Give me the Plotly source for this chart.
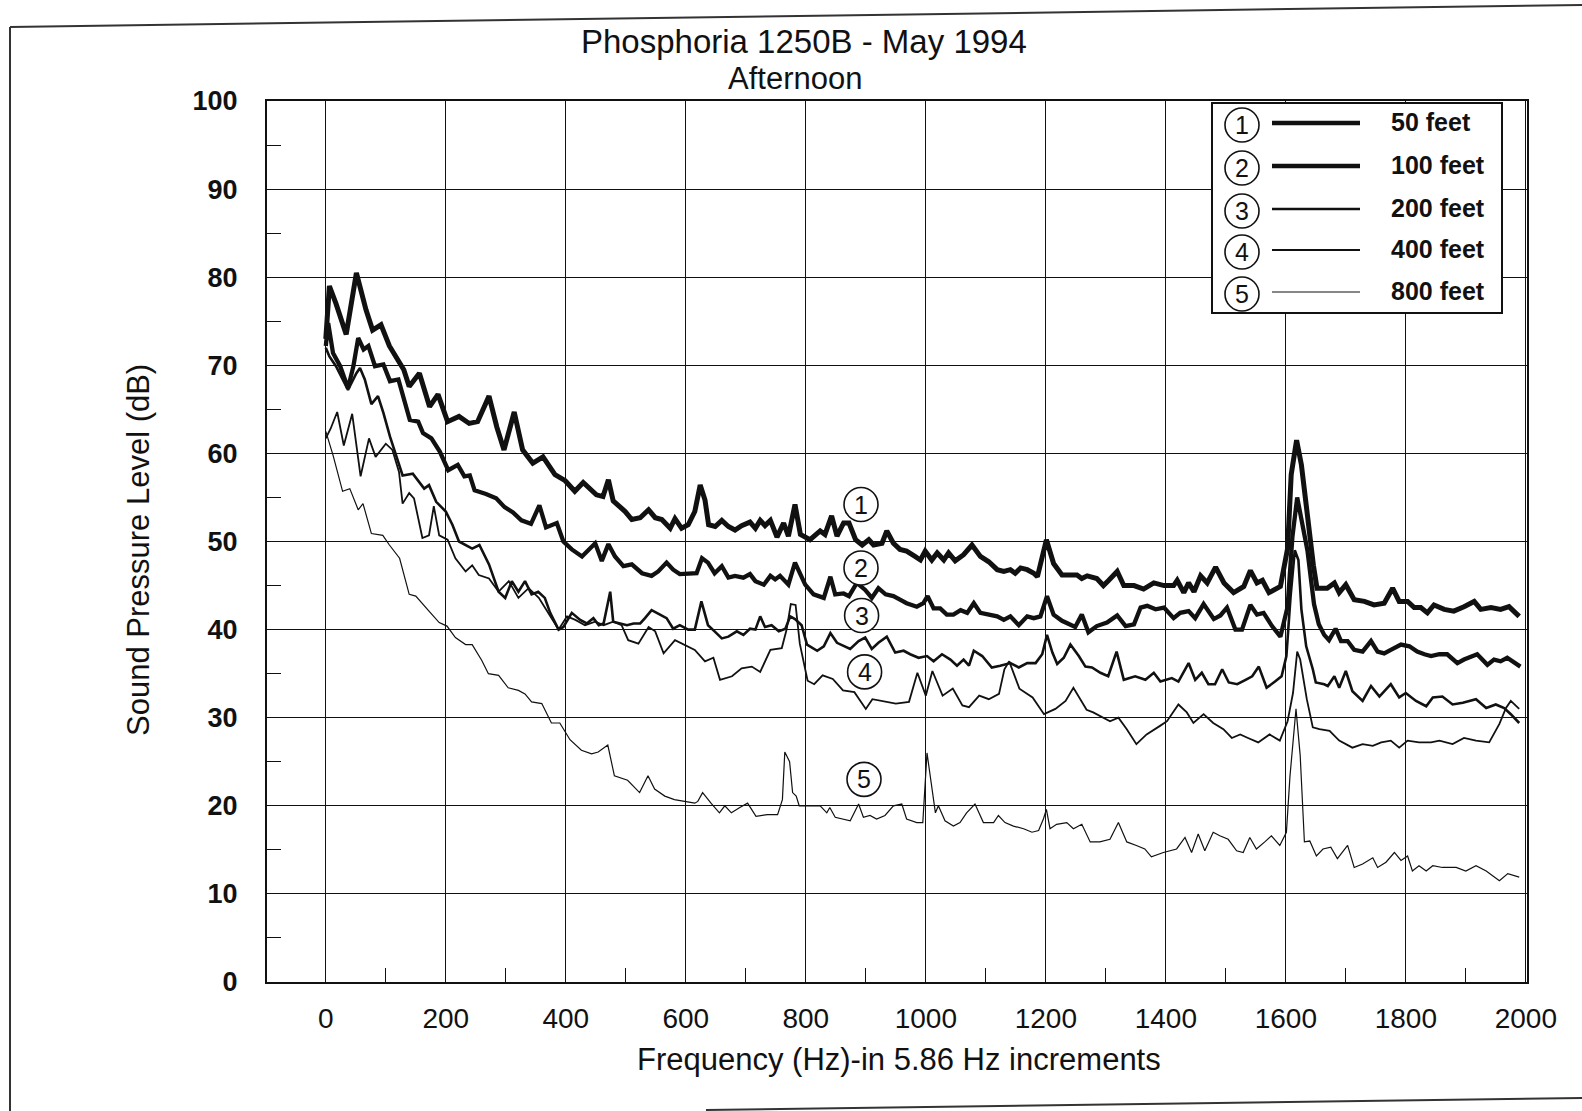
import plotly.graph_objects as go

# Sound pressure level spectra (frequency in Hz, level in dB) at five distances
spl_50ft = [(0, 73.0), (6, 79.0), (17, 77.0), (34, 73.5), (51, 80.5), (67, 76.3), (78, 74.0), (92, 74.6),
            (106, 72.2), (117, 71.0), (130, 69.5), (139, 67.6), (156, 69.1), (173, 65.3), (187, 66.7),
            (203, 63.6), (222, 64.2), (239, 63.4), (253, 63.6), (272, 66.5), (285, 63.0), (297, 60.4),
            (314, 64.7), (328, 60.4), (345, 58.9), (362, 59.6), (382, 57.6), (399, 56.9), (415, 55.7),
            (429, 56.7), (451, 55.3), (462, 55.1), (471, 57.0), (479, 54.6), (499, 53.4), (510, 52.5),
            (524, 52.7), (538, 53.6), (549, 52.7), (560, 52.5), (574, 51.5), (582, 52.6), (593, 51.5),
            (604, 51.9), (615, 53.4), (624, 56.4), (632, 54.7), (638, 51.9), (649, 51.7), (660, 52.4),
            (671, 51.7), (682, 51.3), (693, 51.8), (707, 52.2), (716, 51.5), (724, 52.4), (732, 51.8),
            (741, 52.4), (752, 50.5), (763, 52.1), (771, 50.6), (782, 54.2), (791, 50.8), (807, 50.2),
            (824, 51.2), (832, 50.8), (843, 52.9), (852, 50.6), (863, 52.1), (872, 52.1), (883, 50.2),
            (894, 49.6), (905, 50.2), (913, 49.6), (927, 49.8), (935, 51.2), (946, 49.8), (957, 49.1),
            (968, 48.9), (982, 48.3), (991, 47.9), (999, 48.9), (1010, 47.9), (1019, 48.7), (1030, 47.9),
            (1038, 48.7), (1049, 47.8), (1063, 48.5), (1077, 49.6), (1091, 48.3), (1105, 47.7),
            (1119, 46.8), (1130, 46.6), (1141, 46.8), (1149, 46.4), (1158, 47.0), (1169, 46.8),
            (1180, 46.4), (1186, 46.0), (1201, 50.2), (1213, 47.5), (1227, 46.2), (1241, 46.2),
            (1252, 46.2), (1260, 45.8), (1269, 46.1), (1285, 45.8), (1296, 45.0), (1305, 45.6),
            (1319, 46.6), (1330, 45.0), (1347, 45.0), (1363, 44.6), (1380, 45.3), (1397, 45.0),
            (1413, 45.0), (1419, 45.6), (1430, 44.2), (1438, 45.3), (1447, 44.3), (1458, 46.1),
            (1469, 45.3), (1483, 47.1), (1497, 45.3), (1513, 44.2), (1530, 44.9), (1541, 46.7),
            (1552, 45.3), (1561, 45.6), (1572, 44.2), (1591, 44.9), (1603, 49.2), (1609, 57.6),
            (1618, 61.5), (1626, 58.7), (1636, 52.6), (1646, 47.3), (1652, 44.7), (1669, 44.7),
            (1681, 45.3), (1689, 44.2), (1700, 45.1), (1714, 43.4), (1731, 43.2), (1747, 42.8),
            (1764, 43.0), (1778, 44.7), (1789, 43.2), (1803, 43.2), (1814, 42.5), (1825, 42.5),
            (1836, 41.9), (1847, 42.8), (1864, 42.3), (1880, 42.1), (1897, 42.6), (1914, 43.2),
            (1925, 42.3), (1942, 42.5), (1958, 42.3), (1972, 42.6), (1989, 41.5)]

spl_100ft = [(0, 72.2), (4, 74.8), (12, 71.4), (24, 69.9), (37, 67.4), (46, 69.9), (54, 73.1), (63, 71.8),
             (71, 72.2), (82, 69.9), (96, 70.1), (107, 68.2), (121, 68.4), (129, 66.5), (140, 63.8),
             (154, 63.6), (162, 62.3), (176, 61.7), (190, 60.2), (204, 58.1), (220, 58.7), (231, 57.4),
             (240, 57.5), (248, 55.8), (267, 55.4), (284, 54.9), (298, 53.9), (312, 53.3), (326, 52.4),
             (342, 52.0), (356, 54.1), (367, 51.6), (385, 52.1), (396, 50.0), (410, 49.1), (427, 48.3),
             (438, 49.1), (449, 49.8), (460, 47.8), (471, 49.7), (482, 48.3), (496, 47.2), (510, 47.4),
             (527, 46.4), (543, 46.1), (554, 46.6), (568, 47.6), (579, 46.8), (590, 46.3), (604, 46.4),
             (618, 46.4), (627, 48.1), (637, 47.6), (648, 46.4), (660, 47.2), (671, 45.9), (682, 46.1),
             (696, 45.9), (707, 46.3), (716, 45.5), (730, 45.1), (741, 46.1), (749, 45.7), (757, 46.1),
             (771, 45.1), (782, 47.6), (799, 45.1), (813, 44.0), (830, 43.6), (841, 46.0), (849, 44.0),
             (863, 44.1), (872, 43.8), (885, 45.3), (899, 44.5), (910, 43.6), (921, 44.7), (933, 44.0),
             (946, 43.8), (957, 43.4), (968, 43.0), (985, 42.6), (996, 43.0), (1003, 43.8), (1013, 42.4),
             (1024, 42.4), (1035, 41.7), (1046, 41.7), (1058, 42.2), (1069, 41.9), (1080, 43.0),
             (1091, 41.9), (1105, 41.7), (1119, 41.5), (1130, 41.1), (1141, 41.5), (1155, 40.5),
             (1169, 41.5), (1180, 41.3), (1191, 41.5), (1202, 43.8), (1213, 41.7), (1227, 41.0),
             (1241, 40.6), (1249, 40.3), (1260, 41.7), (1271, 39.7), (1285, 40.4), (1302, 40.8),
             (1319, 41.6), (1333, 40.4), (1347, 40.6), (1358, 42.5), (1369, 42.7), (1383, 42.3),
             (1397, 42.5), (1413, 41.3), (1424, 41.9), (1438, 42.1), (1449, 41.3), (1463, 42.9),
             (1480, 41.2), (1491, 41.6), (1502, 42.5), (1516, 40.0), (1527, 40.0), (1541, 42.8),
             (1552, 41.7), (1563, 41.9), (1577, 40.4), (1591, 39.2), (1603, 42.6), (1611, 50.5),
             (1619, 55.0), (1628, 52.0), (1636, 49.0), (1647, 42.9), (1655, 40.6), (1664, 39.4),
             (1672, 38.8), (1683, 40.1), (1692, 38.7), (1703, 38.7), (1714, 37.7), (1728, 37.5),
             (1742, 38.7), (1753, 37.5), (1764, 37.3), (1775, 37.7), (1792, 38.3), (1806, 38.1),
             (1819, 37.5), (1831, 37.2), (1842, 37.0), (1856, 37.2), (1869, 37.2), (1886, 36.2),
             (1897, 36.6), (1919, 37.2), (1936, 36.0), (1947, 36.6), (1958, 36.4), (1969, 36.8),
             (1991, 35.8)]

spl_200ft = [(0, 72.0), (6, 71.0), (17, 69.9), (37, 67.2), (51, 69.1), (57, 69.7), (65, 68.4), (76, 65.6),
             (87, 66.5), (96, 64.6), (107, 61.9), (117, 59.8), (128, 57.5), (145, 57.7), (164, 56.0),
             (172, 56.4), (184, 54.5), (200, 53.4), (211, 51.9), (222, 50.0), (244, 49.2), (256, 49.6),
             (272, 47.4), (288, 44.3), (299, 43.6), (310, 45.5), (321, 44.3), (332, 45.5), (343, 44.0),
             (354, 44.3), (365, 43.6), (374, 41.9), (388, 40.0), (396, 40.3), (410, 41.9), (424, 41.1),
             (435, 40.7), (446, 41.3), (455, 40.5), (463, 40.7), (474, 44.3), (479, 40.9), (490, 40.7),
             (502, 40.5), (513, 40.7), (524, 40.7), (532, 41.3), (543, 42.2), (557, 41.7), (568, 41.3),
             (579, 40.1), (590, 40.5), (604, 40.0), (615, 40.0), (626, 43.2), (637, 40.5), (648, 39.8),
             (660, 39.0), (671, 39.2), (685, 39.8), (696, 39.4), (707, 40.1), (716, 40.0), (724, 41.5),
             (732, 40.3), (743, 40.5), (755, 39.8), (766, 40.1), (774, 41.5), (782, 41.2), (793, 40.5),
             (802, 38.3), (819, 37.6), (830, 38.1), (841, 39.6), (852, 38.5), (874, 37.8), (888, 38.7),
             (899, 39.1), (910, 37.8), (921, 38.5), (935, 39.2), (949, 37.4), (963, 37.6), (974, 37.2),
             (988, 36.8), (1002, 37.0), (1013, 36.4), (1027, 37.2), (1041, 36.6), (1052, 35.9),
             (1063, 36.6), (1072, 35.9), (1080, 37.6), (1094, 37.0), (1110, 35.7), (1124, 35.9),
             (1141, 36.2), (1155, 35.7), (1169, 36.2), (1183, 36.2), (1194, 37.2), (1202, 39.4),
             (1211, 37.4), (1219, 36.1), (1230, 36.8), (1241, 38.3), (1255, 37.0), (1266, 35.8),
             (1277, 35.7), (1291, 35.1), (1304, 34.7), (1318, 37.5), (1330, 34.3), (1349, 34.7),
             (1366, 34.3), (1380, 35.1), (1391, 34.1), (1410, 34.5), (1421, 34.1), (1438, 36.2),
             (1449, 34.3), (1460, 35.1), (1471, 33.8), (1482, 33.8), (1494, 35.5), (1505, 34.0),
             (1519, 33.8), (1533, 34.3), (1544, 34.7), (1555, 35.8), (1568, 33.4), (1582, 34.1),
             (1593, 34.7), (1601, 37.0), (1608, 43.8), (1615, 49.0), (1621, 47.9), (1626, 42.3),
             (1634, 38.1), (1645, 35.5), (1650, 34.0), (1664, 33.8), (1670, 33.6), (1681, 34.7),
             (1689, 33.4), (1700, 35.3), (1711, 33.0), (1728, 31.9), (1742, 33.6), (1756, 32.4),
             (1775, 33.8), (1789, 32.3), (1800, 32.8), (1817, 31.9), (1834, 31.3), (1845, 32.3),
             (1861, 32.4), (1878, 31.5), (1895, 31.7), (1917, 32.1), (1934, 31.1), (1950, 31.5),
             (1964, 31.1), (1975, 30.4), (1989, 29.4)]

spl_400ft = [(0, 61.7), (8, 62.8), (19, 64.7), (30, 60.9), (44, 64.5), (58, 57.4), (72, 61.7), (83, 59.6),
             (100, 61.1), (111, 60.4), (122, 57.9), (128, 54.3), (139, 55.5), (147, 54.9), (161, 50.4),
             (172, 50.7), (180, 54.0), (189, 50.7), (203, 50.2), (216, 48.1), (233, 46.6), (244, 47.3),
             (255, 46.2), (272, 45.8), (288, 44.3), (305, 45.5), (321, 43.6), (338, 44.7), (355, 43.6),
             (377, 41.3), (388, 40.0), (402, 41.5), (416, 41.1), (432, 40.5), (449, 40.9), (463, 40.5),
             (479, 40.9), (493, 40.5), (504, 38.8), (521, 38.4), (538, 40.3), (549, 39.8), (563, 37.3),
             (582, 38.8), (604, 38.1), (615, 37.7), (632, 36.4), (646, 36.8), (657, 34.3), (677, 34.7),
             (693, 35.6), (710, 35.8), (724, 35.2), (741, 37.7), (760, 37.9), (768, 40.0), (775, 42.9),
             (783, 42.8), (790, 38.4), (803, 34.2), (814, 33.8), (828, 34.8), (845, 34.4), (862, 33.1),
             (881, 32.9), (900, 31.0), (911, 32.1), (928, 31.9), (950, 31.6), (972, 31.8), (986, 35.1),
             (1000, 32.5), (1011, 35.3), (1028, 32.5), (1045, 33.3), (1061, 31.4), (1072, 31.2),
             (1089, 32.5), (1105, 32.1), (1122, 32.7), (1131, 35.5), (1139, 36.4), (1156, 33.3),
             (1178, 32.3), (1197, 30.4), (1216, 31.0), (1233, 31.9), (1246, 33.4), (1268, 30.9),
             (1279, 30.6), (1307, 29.6), (1321, 30.0), (1335, 28.7), (1351, 27.0), (1368, 28.1),
             (1391, 29.1), (1402, 29.6), (1421, 31.5), (1435, 30.6), (1446, 29.4), (1463, 30.4),
             (1479, 29.4), (1496, 28.7), (1510, 27.7), (1524, 28.1), (1537, 27.7), (1554, 27.2),
             (1573, 28.1), (1590, 27.4), (1603, 29.6), (1612, 32.8), (1619, 37.5), (1624, 36.6),
             (1635, 32.1), (1645, 28.9), (1656, 28.7), (1673, 28.5), (1689, 27.4), (1711, 26.6),
             (1728, 27.0), (1745, 26.8), (1759, 27.2), (1775, 27.4), (1789, 26.6), (1803, 27.4),
             (1822, 27.2), (1842, 27.2), (1856, 27.4), (1878, 27.0), (1897, 27.7), (1917, 27.4),
             (1939, 27.2), (1956, 29.3), (1967, 31.1), (1975, 31.9), (1989, 31.0)]

spl_800ft = [(0, 62.5), (12, 59.8), (28, 55.7), (40, 56.0), (54, 53.6), (62, 54.3), (76, 50.9), (95, 50.7),
             (106, 49.6), (123, 48.1), (139, 44.0), (150, 43.8), (172, 42.1), (189, 40.8), (202, 40.4),
             (216, 39.1), (233, 38.3), (244, 38.3), (260, 36.5), (271, 35.0), (288, 34.8), (304, 33.4),
             (321, 33.1), (332, 32.7), (343, 31.8), (360, 31.6), (376, 29.4), (390, 29.4), (407, 27.5),
             (426, 26.3), (443, 25.9), (454, 26.1), (470, 26.9), (481, 23.4), (503, 22.9), (523, 21.5),
             (537, 23.4), (548, 21.9), (565, 21.1), (581, 20.7), (598, 20.5), (615, 20.3), (620, 20.5),
             (628, 21.5), (642, 20.3), (656, 19.2), (665, 20.0), (676, 19.2), (690, 19.8), (703, 20.3),
             (717, 18.8), (736, 19.0), (753, 19.0), (761, 20.7), (765, 26.1), (773, 25.0), (778, 21.5),
             (784, 21.1), (789, 20.0), (807, 20.0), (824, 20.0), (835, 19.2), (840, 19.8), (849, 18.7),
             (863, 18.5), (874, 18.3), (888, 20.2), (896, 18.7), (907, 18.9), (918, 18.5), (932, 18.9),
             (946, 20.0), (960, 20.2), (968, 18.5), (985, 18.1), (995, 18.1), (1002, 26.0), (1010, 22.3),
             (1016, 19.2), (1021, 20.0), (1032, 18.3), (1046, 17.7), (1057, 18.1), (1068, 19.2),
             (1082, 20.2), (1096, 18.1), (1113, 18.1), (1121, 18.9), (1132, 18.1), (1146, 17.7),
             (1163, 17.4), (1177, 17.0), (1188, 17.2), (1196, 18.5), (1201, 19.6), (1207, 17.4),
             (1218, 17.9), (1235, 18.1), (1246, 17.4), (1260, 17.9), (1274, 15.9), (1290, 15.9),
             (1307, 16.2), (1321, 18.1), (1335, 15.9), (1351, 15.5), (1365, 15.1), (1376, 14.2),
             (1396, 14.7), (1418, 15.1), (1432, 16.4), (1443, 14.7), (1454, 16.8), (1465, 14.9),
             (1479, 17.0), (1490, 16.6), (1504, 16.2), (1518, 14.9), (1529, 14.7), (1540, 16.4),
             (1551, 15.1), (1565, 15.9), (1576, 16.6), (1590, 15.5), (1601, 17.0), (1607, 23.4),
             (1617, 31.0), (1624, 25.7), (1631, 15.9), (1640, 16.0), (1651, 14.3), (1662, 15.1),
             (1675, 15.3), (1686, 14.0), (1703, 15.5), (1714, 13.0), (1728, 13.4), (1745, 14.1),
             (1753, 13.0), (1767, 13.6), (1781, 14.7), (1792, 13.8), (1803, 14.3), (1811, 12.6),
             (1822, 13.2), (1834, 12.6), (1845, 13.2), (1861, 13.0), (1884, 13.0), (1900, 12.6),
             (1917, 13.2), (1934, 12.6), (1956, 11.5), (1970, 12.3), (1989, 11.9)]

series_ids = ["1", "2", "3", "4", "5"]
series_names = ["50 feet", "100 feet", "200 feet", "400 feet", "800 feet"]
series_data = [spl_50ft, spl_100ft, spl_200ft, spl_400ft, spl_800ft]
# where each curve's circled number sits on the chart (Hz, dB)
curve_tag_x = [892, 892, 893, 898, 897]
curve_tag_y = [54.2, 47.0, 41.6, 35.2, 23.0]

x_tick_vals = [0, 200, 400, 600, 800, 1000, 1200, 1400, 1600, 1800, 2000]
y_tick_vals = [0, 10, 20, 30, 40, 50, 60, 70, 80, 90, 100]

# ---- styling / layout ----
FONT = "Liberation Sans, Arial, Helvetica, sans-serif"
INK = "#111111"
line_widths = [5.0, 4.3, 2.6, 1.8, 1.2]

WIDTH, HEIGHT = 1582, 1111
PLOT_L, PLOT_R, PLOT_T, PLOT_B = 267, 1527, 101, 982


def paper_x(px):
    return (px - PLOT_L) / (PLOT_R - PLOT_L)


def paper_y(py):
    return (PLOT_B - py) / (PLOT_B - PLOT_T)


fig = go.Figure()
for name, pts, w in zip(series_names, series_data, line_widths):
    fig.add_trace(go.Scatter(
        x=[p[0] for p in pts], y=[p[1] for p in pts], mode="lines", name=name,
        line=dict(color=INK, width=w, shape="linear"), showlegend=False,
        hoverinfo="x+y+name"))

shapes = []
annotations = []

# circled curve numbers inside the plot
for sid, cx, cy in zip(series_ids, curve_tag_x, curve_tag_y):
    shapes.append(dict(type="circle", xref="x", yref="y", xsizemode="pixel", ysizemode="pixel",
                       xanchor=cx, yanchor=cy, x0=-17, x1=17, y0=-17, y1=17,
                       line=dict(color=INK, width=1.6), fillcolor="white", layer="above"))
    annotations.append(dict(x=cx, y=cy, xref="x", yref="y", text=sid, showarrow=False,
                            font=dict(family=FONT, size=25, color=INK),
                            xanchor="center", yanchor="middle"))

# custom legend box
shapes.append(dict(type="rect", xref="paper", yref="paper",
                   x0=paper_x(1212), x1=paper_x(1502), y0=paper_y(313), y1=paper_y(103),
                   line=dict(color=INK, width=2), fillcolor="white", layer="above"))
legend_rows = [125, 168, 211, 252, 294]
for sid, name, w, ry in zip(series_ids, series_names, line_widths, legend_rows):
    shapes.append(dict(type="circle", xref="paper", yref="paper", xsizemode="pixel", ysizemode="pixel",
                       xanchor=paper_x(1242), yanchor=paper_y(ry), x0=-17, x1=17, y0=-17, y1=17,
                       line=dict(color=INK, width=1.6), fillcolor="white", layer="above"))
    annotations.append(dict(x=paper_x(1242), y=paper_y(ry), xref="paper", yref="paper", text=sid,
                            showarrow=False, font=dict(family=FONT, size=25, color=INK),
                            xanchor="center", yanchor="middle"))
    shapes.append(dict(type="line", xref="paper", yref="paper",
                       x0=paper_x(1272), x1=paper_x(1360), y0=paper_y(ry - 2), y1=paper_y(ry - 2),
                       line=dict(color=INK, width=min(w, 4.5)), layer="above"))
    annotations.append(dict(x=paper_x(1389), y=paper_y(ry - 3), xref="paper", yref="paper",
                            text="<b>" + name + "</b>", showarrow=False,
                            font=dict(family=FONT, size=25, color=INK),
                            xanchor="left", yanchor="middle"))

# scanned page frame lines
frame_style = dict(color="#333333", width=2)
shapes.append(dict(type="line", xref="paper", yref="paper", x0=paper_x(10), y0=paper_y(27),
                   x1=paper_x(1582), y1=paper_y(5), line=frame_style, layer="above"))
shapes.append(dict(type="line", xref="paper", yref="paper", x0=paper_x(10), y0=paper_y(27),
                   x1=paper_x(10), y1=paper_y(1111), line=frame_style, layer="above"))
shapes.append(dict(type="line", xref="paper", yref="paper", x0=paper_x(706), y0=paper_y(1110),
                   x1=paper_x(1582), y1=paper_y(1098), line=frame_style, layer="above"))

# titles
annotations.append(dict(x=paper_x(804), y=paper_y(42), xref="paper", yref="paper",
                        text="Phosphoria 1250B - May 1994", showarrow=False,
                        font=dict(family=FONT, size=33, color=INK), xanchor="center", yanchor="middle"))
annotations.append(dict(x=paper_x(795), y=paper_y(78), xref="paper", yref="paper",
                        text="Afternoon", showarrow=False,
                        font=dict(family=FONT, size=31, color=INK), xanchor="center", yanchor="middle"))
annotations.append(dict(x=paper_x(899), y=paper_y(1059), xref="paper", yref="paper",
                        text="Frequency (Hz)-in 5.86 Hz increments", showarrow=False,
                        font=dict(family=FONT, size=31, color=INK), xanchor="center", yanchor="middle"))
annotations.append(dict(x=paper_x(138), y=paper_y(550), xref="paper", yref="paper",
                        text="Sound Pressure Level (dB)", showarrow=False, textangle=-90,
                        font=dict(family=FONT, size=31, color=INK), xanchor="center", yanchor="middle"))

axis_common = dict(showline=True, linecolor=INK, linewidth=2.2, mirror=True,
                   showgrid=True, gridcolor=INK, gridwidth=1.3, zeroline=False,
                   ticks="inside", ticklen=14, tickwidth=1.4, tickcolor=INK)

fig.update_layout(
    width=WIDTH, height=HEIGHT,
    margin=dict(l=PLOT_L, r=WIDTH - PLOT_R, t=PLOT_T, b=HEIGHT - PLOT_B, autoexpand=False),
    paper_bgcolor="white", plot_bgcolor="white",
    font=dict(family=FONT, color=INK),
    xaxis=dict(range=[-98, 2002], tickmode="array", tickvals=x_tick_vals,
               ticktext=[str(v) for v in x_tick_vals], tickfont=dict(size=28),
               ticklabelstandoff=10,
               minor=dict(dtick=100, tick0=0, ticks="inside", ticklen=14, tickwidth=1.2,
                          tickcolor=INK, showgrid=False),
               **axis_common),
    yaxis=dict(range=[0, 100], tickmode="array", tickvals=y_tick_vals,
               ticktext=["<b>%d</b>" % v for v in y_tick_vals], tickfont=dict(size=27),
               ticklabelstandoff=22,
               minor=dict(dtick=5, tick0=0, ticks="inside", ticklen=14, tickwidth=1.2,
                          tickcolor=INK, showgrid=False),
               **axis_common),
    shapes=shapes, annotations=annotations, showlegend=False,
)

fig.write_html("out.html")
